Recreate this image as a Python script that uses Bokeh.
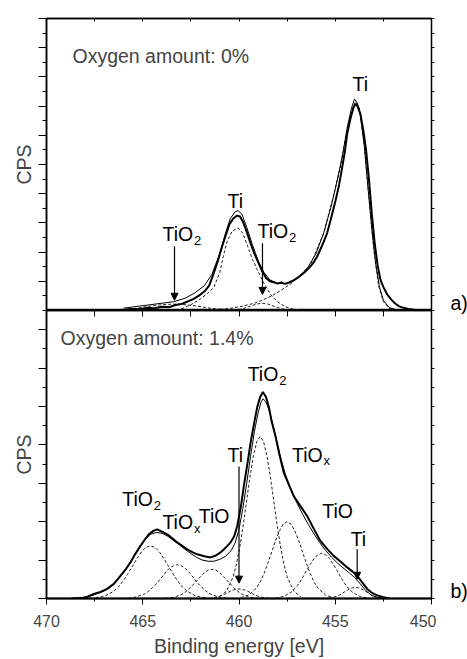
from bokeh.plotting import figure
from bokeh.layouts import column, row
from bokeh.models import Range1d, LinearAxis, FixedTicker, Arrow, NormalHead, Label
from bokeh.embed import file_html
from bokeh.resources import INLINE
from bokeh.core.properties import value

FONT = "Liberation Sans"

# ---------------- top panel (oxygen 0 %) ----------------
top_data_e = [466.0, 465.6, 465.2, 464.8, 464.4, 464.0, 463.6, 463.3, 463.0, 462.7, 462.4, 462.1,
              461.8, 461.55, 461.3, 461.1, 460.9, 460.7, 460.5, 460.3, 460.1, 459.95, 459.8, 459.6,
              459.4, 459.2, 459.0, 458.8, 458.6, 458.4, 458.2, 458.0, 457.8, 457.6, 457.4, 457.2,
              457.0, 456.8, 456.6, 456.37, 456.15, 455.94, 455.7, 455.42, 455.2, 454.99, 454.8,
              454.64, 454.5, 454.38, 454.2, 454.05, 453.95, 453.85, 453.7, 453.55, 453.4, 453.25,
              453.1, 452.95, 452.8, 452.65, 452.5, 452.3, 452.1, 451.9, 451.7, 451.5, 451.2, 450.9, 450.7]
top_data_cps = [0.02, 0.05, 0.04, 0.09, 0.08, 0.13, 0.12, 0.19, 0.22, 0.3, 0.38, 0.5,
                0.65, 0.85, 1.3, 1.7, 2.15, 2.55, 2.95, 3.15, 3.25, 3.22, 3.05, 2.7,
                2.3, 1.95, 1.65, 1.35, 1.12, 1.0, 0.97, 0.92, 0.96, 0.91, 0.96, 1.02,
                1.1, 1.2, 1.3, 1.45, 1.62, 1.85, 2.2, 2.65, 3.2, 3.75, 4.3,
                4.9, 5.45, 6.05, 6.6, 6.95, 7.07, 7.0, 6.75, 6.2, 5.5, 4.5,
                3.3, 2.3, 1.55, 1.05, 0.8, 0.55, 0.38, 0.25, 0.15, 0.1, 0.05, 0.03, 0.02]

top_fit_e = [466.0, 463.4, 462.8, 462.3, 461.8, 461.4, 461.0, 460.7, 460.45, 460.2, 460.05, 459.85,
             459.6, 459.3, 459.0, 458.7, 458.4, 458.0, 457.6, 457.2, 456.8, 456.4, 456.0, 455.6,
             455.2, 454.9, 454.6, 454.35, 454.15, 454.0, 453.85, 453.7, 453.5, 453.3, 453.1,
             452.9, 452.7, 452.5, 452.2, 451.8]
top_fit_cps = [0.08, 0.3, 0.42, 0.6, 0.85, 1.25, 1.95, 2.65, 3.15, 3.38, 3.42, 3.3,
               2.85, 2.25, 1.7, 1.3, 1.05, 0.93, 0.92, 1.0, 1.2, 1.5, 1.95, 2.65,
               3.6, 4.45, 5.4, 6.35, 6.95, 7.24, 7.1, 6.7, 5.7, 4.2, 2.8,
               1.6, 0.8, 0.35, 0.1, 0.02]

top_ti_big_e = [461.5, 460.5, 459.8, 459.2, 458.8, 458.3, 457.8, 457.3, 456.9, 456.3, 455.6, 455.1,
                454.7, 454.4, 454.1, 453.95, 453.75, 453.5, 453.25, 453.0, 452.75, 452.5, 452.2, 451.8]
top_ti_big_cps = [0.02, 0.07, 0.15, 0.25, 0.35, 0.5, 0.7, 0.92, 1.15, 1.55, 2.65, 3.9,
                  5.0, 6.2, 6.95, 7.15, 6.95, 5.7, 3.9, 2.1, 0.85, 0.3, 0.08, 0.01]

top_ti_small_e = [463.0, 462.5, 462.0, 461.6, 461.3, 461.0, 460.8, 460.6, 460.35, 460.05, 459.8,
                  459.55, 459.3, 459.05, 458.8, 458.55, 458.3, 458.0, 457.6, 457.2, 456.8]
top_ti_small_cps = [0.05, 0.2, 0.4, 0.6, 0.8, 1.3, 1.9, 2.4, 2.72, 2.83, 2.65,
                    2.2, 1.75, 1.4, 1.05, 0.75, 0.5, 0.3, 0.13, 0.05, 0.01]

top_tio2_a_e = [460.3, 459.8, 459.4, 459.1, 458.8, 458.5, 458.2, 457.8, 457.3]
top_tio2_a_cps = [0.01, 0.06, 0.15, 0.22, 0.25, 0.22, 0.15, 0.06, 0.01]

top_tio2_b_e = [466.0, 465.3, 464.6, 464.0, 463.4, 462.8, 462.2, 461.5, 460.8, 460.0]
top_tio2_b_cps = [0.03, 0.08, 0.15, 0.2, 0.22, 0.2, 0.15, 0.08, 0.03, 0.01]

top_major_ticks = [0, 1, 2, 3, 4, 5, 6, 7, 8, 9, 10]
top_minor_ticks = [0.5, 1.5, 2.5, 3.5, 4.5, 5.5, 6.5, 7.5, 8.5, 9.5]

top_label_text = ["Ti", "Ti", "TiO", "TiO"]
top_label_e = [454.1, 460.6, 463.97, 459.04]
top_label_cps = [7.77, 3.75, 2.61, 2.71]
top_sub_text = ["2", "2"]
top_sub_e = [463.97, 459.04]
top_sub_cps = [2.61, 2.71]
top_arrow_e = [463.35, 458.78]
top_arrow_from = [2.2, 2.3]
top_arrow_to = [0.35, 0.55]

# ---------------- bottom panel (oxygen 1.4 %) ----------------
bot_data_e = [468.7, 468.2, 467.9, 467.54, 467.2, 466.85, 466.5, 466.16, 465.9, 465.64, 465.4, 465.12,
              464.9, 464.69, 464.45, 464.25, 464.0, 463.73, 463.45, 463.21, 462.95, 462.69, 462.4,
              462.17, 461.8, 461.48, 461.2, 460.96, 460.7, 460.44, 460.25, 460.09, 459.9, 459.75,
              459.55, 459.4, 459.2, 459.05, 458.9, 458.76, 458.6, 458.45, 458.3, 458.1, 457.9,
              457.67, 457.4, 457.15, 456.8, 456.46, 456.1, 455.77, 455.4, 455.08, 454.7, 454.38,
              454.1, 453.86, 453.6, 453.34, 453.15, 453.0, 452.75, 452.48, 452.2]
bot_data_cps = [0.0, 0.01, 0.04, 0.12, 0.17, 0.25, 0.38, 0.59, 0.75, 0.94, 1.15, 1.37,
                1.53, 1.67, 1.76, 1.8, 1.74, 1.67, 1.56, 1.46, 1.37, 1.28, 1.2,
                1.15, 1.1, 1.07, 1.12, 1.2, 1.32, 1.46, 1.62, 1.89, 2.4, 2.92,
                3.55, 4.05, 4.6, 4.99, 5.25, 5.38, 5.25, 4.99, 4.6, 4.22, 3.75,
                3.27, 2.95, 2.66, 2.4, 2.15, 1.8, 1.5, 1.28, 1.11, 0.95, 0.81,
                0.7, 0.59, 0.42, 0.25, 0.17, 0.12, 0.07, 0.03, 0.0]

bot_fit_e = [468.5, 467.9, 467.5, 467.0, 466.5, 466.0, 465.6, 465.2, 464.9, 464.6, 464.3, 464.0,
             463.7, 463.4, 463.1, 462.8, 462.5, 462.2, 461.9, 461.6, 461.3, 461.0, 460.7, 460.4,
             460.2, 460.0, 459.8, 459.6, 459.4, 459.2, 459.0, 458.85, 458.75, 458.6, 458.4, 458.2,
             458.0, 457.8, 457.6, 457.4, 457.2, 457.0, 456.7, 456.4, 456.1, 455.8, 455.5, 455.2,
             454.9, 454.6, 454.3, 454.0, 453.7, 453.4, 453.1, 452.8, 452.5]
bot_fit_cps = [0.0, 0.04, 0.1, 0.2, 0.38, 0.66, 0.98, 1.3, 1.52, 1.67, 1.72, 1.7,
               1.62, 1.51, 1.4, 1.28, 1.17, 1.07, 1.0, 0.97, 0.97, 1.02, 1.1, 1.25,
               1.45, 1.8, 2.35, 3.0, 3.7, 4.35, 4.85, 5.12, 5.2, 5.12, 4.85, 4.45,
               4.0, 3.6, 3.25, 2.97, 2.72, 2.5, 2.2, 1.93, 1.68, 1.45, 1.25, 1.08,
               0.93, 0.8, 0.68, 0.55, 0.38, 0.2, 0.08, 0.02, 0.0]

c1_e = [467.45, 466.98, 466.5, 466.26, 466.03, 465.79, 465.55, 465.31, 465.08, 464.84, 464.6,
        464.36, 464.13, 463.89, 463.65, 463.41, 463.18, 462.94, 462.7, 462.23, 461.75]
c1_cps = [0.02, 0.06, 0.19, 0.3, 0.45, 0.63, 0.83, 1.03, 1.21, 1.33, 1.37,
          1.33, 1.21, 1.03, 0.83, 0.63, 0.45, 0.3, 0.19, 0.06, 0.02]
c2_e = [465.75, 465.33, 464.9, 464.69, 464.48, 464.26, 464.05, 463.84, 463.63, 463.41, 463.2,
        462.99, 462.78, 462.56, 462.35, 462.14, 461.93, 461.71, 461.5, 461.08, 460.65]
c2_cps = [0.01, 0.04, 0.12, 0.19, 0.29, 0.4, 0.53, 0.66, 0.78, 0.85, 0.88,
          0.85, 0.78, 0.66, 0.53, 0.4, 0.29, 0.19, 0.12, 0.04, 0.01]
c3_e = [463.8, 463.4, 463.0, 462.8, 462.6, 462.4, 462.2, 462.0, 461.8, 461.6, 461.4,
        461.2, 461.0, 460.8, 460.6, 460.4, 460.2, 460.0, 459.8, 459.4, 459.0]
c3_cps = [0.01, 0.03, 0.1, 0.16, 0.25, 0.35, 0.46, 0.57, 0.67, 0.74, 0.76,
          0.74, 0.67, 0.57, 0.46, 0.35, 0.25, 0.16, 0.1, 0.03, 0.01]
c4_e = [461.8, 461.5, 461.2, 461.05, 460.9, 460.75, 460.6, 460.45, 460.3, 460.15, 460.0,
        459.85, 459.7, 459.55, 459.4, 459.25, 459.1, 458.95, 458.8, 458.5, 458.2]
c4_cps = [0.0, 0.01, 0.03, 0.05, 0.08, 0.11, 0.15, 0.19, 0.22, 0.24, 0.25,
          0.24, 0.22, 0.19, 0.15, 0.11, 0.08, 0.05, 0.03, 0.01, 0.0]
c5_e = [461.0, 460.65, 460.3, 460.125, 459.95, 459.775, 459.6, 459.425, 459.25, 459.075, 458.9,
        458.725, 458.55, 458.375, 458.2, 458.025, 457.85, 457.675, 457.5, 457.15, 456.8]
c5_cps = [0.05, 0.19, 0.57, 0.91, 1.37, 1.93, 2.56, 3.19, 3.72, 4.09, 4.22,
          4.09, 3.72, 3.19, 2.56, 1.93, 1.37, 0.91, 0.57, 0.19, 0.05]
c6_e = [459.9, 459.5, 459.1, 458.9, 458.7, 458.5, 458.3, 458.1, 457.9, 457.7, 457.5,
        457.3, 457.1, 456.9, 456.7, 456.5, 456.3, 456.1, 455.9, 455.5, 455.1]
c6_cps = [0.02, 0.09, 0.27, 0.43, 0.65, 0.92, 1.21, 1.51, 1.76, 1.94, 2.0,
          1.94, 1.76, 1.51, 1.21, 0.92, 0.65, 0.43, 0.27, 0.09, 0.02]
c7_e = [458.1, 457.7, 457.3, 457.1, 456.9, 456.7, 456.5, 456.3, 456.1, 455.9, 455.7,
        455.5, 455.3, 455.1, 454.9, 454.7, 454.5, 454.3, 454.1, 453.7, 453.3]
c7_cps = [0.01, 0.05, 0.16, 0.26, 0.38, 0.54, 0.72, 0.89, 1.04, 1.14, 1.18,
          1.14, 1.04, 0.89, 0.72, 0.54, 0.38, 0.26, 0.16, 0.05, 0.01]
c8_e = [455.6, 455.33, 455.05, 454.91, 454.78, 454.64, 454.5, 454.36, 454.23, 454.09, 453.95,
        453.81, 453.68, 453.54, 453.4, 453.26, 453.13, 452.99, 452.85, 452.58, 452.3]
c8_cps = [0.0, 0.01, 0.04, 0.06, 0.09, 0.13, 0.18, 0.22, 0.26, 0.28, 0.29,
          0.28, 0.26, 0.22, 0.18, 0.13, 0.09, 0.06, 0.04, 0.01, 0.0]

bot_major_ticks = [0, 1, 2, 3, 4, 5, 6, 7]
bot_minor_ticks = [0.5, 1.5, 2.5, 3.5, 4.5, 5.5, 6.5, 7.5]

bot_label_text = ["TiO", "TiO", "TiO", "Ti", "TiO", "TiO", "TiO", "Ti"]
bot_label_e = [466.06, 463.98, 462.09, 460.6, 459.55, 457.25, 455.67, 454.2]
bot_label_cps = [2.58, 1.98, 2.15, 3.74, 5.84, 3.74, 2.28, 1.56]
bot_sub_text = ["2", "x", "2", "x"]
bot_sub_e = [466.06, 463.98, 459.55, 457.25]
bot_sub_cps = [2.58, 1.98, 5.84, 3.74]
bot_arrow_e = [460.0, 453.86]
bot_arrow_from = [3.44, 1.28]
bot_arrow_to = [0.4, 0.5]

x_major_ticks = [470, 465, 460, 455, 450]
x_minor_ticks = [467.5, 462.5, 457.5, 452.5]
x_all_ticks = [470, 467.5, 465, 462.5, 460, 457.5, 455, 452.5, 450]

panel_tags = ["a)", "b)"]


def base_fig(height, ymax, top, bottom):
    p = figure(width=436, height=height, x_range=Range1d(470, 450), y_range=Range1d(0, ymax),
               x_axis_location=None, y_axis_location=None, toolbar_location=None,
               output_backend="svg", min_border_left=46, min_border_right=5,
               min_border_top=top, min_border_bottom=bottom)
    p.grid.grid_line_color = None
    p.outline_line_color = "black"
    p.outline_line_width = 1.5
    p.background_fill_color = "white"
    p.border_fill_color = "white"
    return p


def hidden_labels(ax, ticks):
    ax.major_label_overrides = {t: "" for t in ticks}
    ax.major_label_text_font_size = "0px"
    ax.major_label_standoff = 0
    ax.axis_line_color = "black"
    ax.major_tick_line_color = "black"
    ax.minor_tick_line_color = "black"


def add_y_axes(p, major, minor):
    left = LinearAxis(ticker=FixedTicker(ticks=major, minor_ticks=minor), axis_label="CPS")
    hidden_labels(left, major)
    left.major_tick_out = 8
    left.major_tick_in = 0
    left.minor_tick_out = 4
    left.minor_tick_in = 0
    left.axis_line_width = 1.5
    left.axis_label_text_font = FONT
    left.axis_label_text_font_size = "19.5px"
    left.axis_label_text_font_style = "normal"
    left.axis_label_standoff = 4
    p.add_layout(left, "left")
    halves = sorted(major + minor)
    right = LinearAxis(ticker=FixedTicker(ticks=halves, minor_ticks=[]))
    hidden_labels(right, halves)
    right.major_tick_out = 3
    right.major_tick_in = 0
    p.add_layout(right, "right")


def add_top_ticks(p, length):
    ax = LinearAxis(ticker=FixedTicker(ticks=x_all_ticks, minor_ticks=[]))
    hidden_labels(ax, x_all_ticks)
    ax.major_tick_in = length
    ax.major_tick_out = 0
    ax.axis_line_width = 1.5
    p.add_layout(ax, "above")


def add_texts(p, e, c, txt, sub_e, sub_c, sub_txt):
    p.text(x=e, y=c, text=txt, text_font=value(FONT), text_font_size="19.5px",
           text_align="left", text_baseline="alphabetic", text_color="black")
    p.text(x=sub_e, y=sub_c, text=sub_txt, text_font=value(FONT), text_font_size="13px",
           text_align="left", text_baseline="alphabetic", text_color="black",
           x_offset=31.5, y_offset=6)


def add_arrows(p, e, y0, y1):
    for xe, a, b in zip(e, y0, y1):
        p.add_layout(Arrow(x_start=xe, y_start=a, x_end=xe, y_end=b, line_width=1.2,
                           line_color="black",
                           end=NormalHead(size=7, fill_color="black", line_color="black",
                                          line_width=1)))


DASH = dict(line_color="#222222", line_width=1, line_dash="3 2")

# ---- top figure ----
p1 = base_fig(310, 10, 18, 0)
add_y_axes(p1, top_major_ticks, top_minor_ticks)
add_top_ticks(p1, 3)
for e, c in [(top_ti_big_e, top_ti_big_cps), (top_ti_small_e, top_ti_small_cps),
             (top_tio2_a_e, top_tio2_a_cps), (top_tio2_b_e, top_tio2_b_cps)]:
    p1.line(e, c, **DASH)
p1.line(top_fit_e, top_fit_cps, line_color="black", line_width=1)
p1.line(top_data_e, top_data_cps, line_color="black", line_width=2)
add_texts(p1, top_label_e, top_label_cps, top_label_text, top_sub_e, top_sub_cps, top_sub_text)
add_arrows(p1, top_arrow_e, top_arrow_from, top_arrow_to)
p1.add_layout(Label(x=468.65, y=8.73, text="Oxygen amount: 0%", text_font=FONT,
                    text_font_size="19.5px", text_baseline="alphabetic"))

# ---- bottom figure ----
p2 = base_fig(349, 7.5, 0, 59)
add_y_axes(p2, bot_major_ticks, bot_minor_ticks)
add_top_ticks(p2, 6)
bx = LinearAxis(ticker=FixedTicker(ticks=x_major_ticks, minor_ticks=x_minor_ticks),
                axis_label="Binding energy [eV]")
bx.major_tick_out = 6
bx.major_tick_in = 0
bx.minor_tick_out = 3
bx.minor_tick_in = 0
bx.axis_line_width = 2
bx.major_label_text_font = FONT
bx.major_label_text_font_size = "16px"
bx.major_label_standoff = 10
bx.axis_label_text_font = FONT
bx.axis_label_text_font_size = "19.5px"
bx.axis_label_text_font_style = "normal"
bx.axis_label_standoff = 5
p2.add_layout(bx, "below")
for e, c in [(c1_e, c1_cps), (c2_e, c2_cps), (c3_e, c3_cps), (c4_e, c4_cps),
             (c5_e, c5_cps), (c6_e, c6_cps), (c7_e, c7_cps), (c8_e, c8_cps)]:
    p2.line(e, c, **DASH)
p2.line(bot_fit_e, bot_fit_cps, line_color="black", line_width=1)
p2.line(bot_data_e, bot_data_cps, line_color="black", line_width=2)
add_texts(p2, bot_label_e, bot_label_cps, bot_label_text, bot_sub_e, bot_sub_cps, bot_sub_text)
add_arrows(p2, bot_arrow_e, bot_arrow_from, bot_arrow_to)
p2.add_layout(Label(x=469.27, y=6.78, text="Oxygen amount: 1.4%", text_font=FONT,
                    text_font_size="19.5px", text_baseline="alphabetic"))

# ---- side strip carrying the panel tags a) and b) ----
side = figure(width=31, height=659, x_range=Range1d(0, 31), y_range=Range1d(659, 0),
              x_axis_location=None, y_axis_location=None, toolbar_location=None,
              output_backend="svg", min_border=0, outline_line_color=None)
side.grid.grid_line_color = None
side.text(x=[14, 14], y=[302, 590], text=panel_tags, text_font=value(FONT),
          text_font_size="19.5px", text_align="left", text_baseline="alphabetic",
          text_color="black")

layout = row(column(p1, p2, spacing=0), side, spacing=0)
open("out.html", "w").write(file_html(layout, INLINE))
